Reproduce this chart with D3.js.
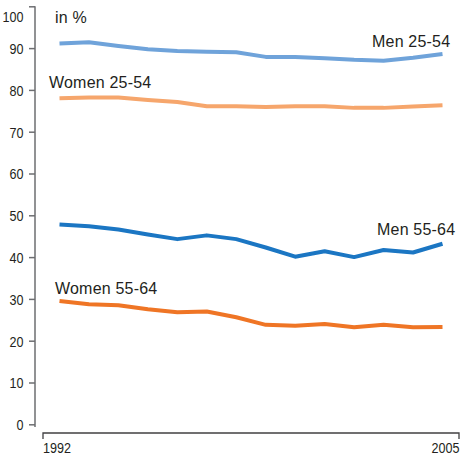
<!DOCTYPE html>
<html><head><meta charset="utf-8">
<script src="https://cdn.jsdelivr.net/npm/d3@7"></script>
<style>
html,body{margin:0;padding:0;background:#fff;}
svg{display:block;}
.lbl{font-family:"Liberation Sans",Arial,sans-serif;font-size:16px;fill:#231f20;letter-spacing:0.2px;}
.num{font-family:"Liberation Sans",Arial,sans-serif;font-size:15px;fill:#231f20;}
</style></head>
<body>
<svg id="c" width="464" height="455"></svg>
<script>
const years = [1992,1993,1994,1995,1996,1997,1998,1999,2000,2001,2002,2003,2004,2005];
const men2554   = [91.1,91.4,90.5,89.7,89.3,89.1,89.0,87.9,87.9,87.6,87.2,87.0,87.7,88.6];
const women2554 = [78.0,78.2,78.2,77.6,77.1,76.1,76.1,75.9,76.1,76.1,75.7,75.7,76.0,76.3];
const men5564   = [47.8,47.4,46.6,45.4,44.3,45.2,44.3,42.3,40.1,41.4,40.0,41.7,41.1,43.2];
const women5564 = [29.5,28.7,28.5,27.5,26.8,27.0,25.6,23.8,23.6,24.0,23.2,23.8,23.2,23.3];
const yTicks = [0,10,20,30,40,50,60,70,80,90,100];
const xTickLabels = ["1992","2005"];
const seriesNames = ["Men 25-54","Women 25-54","Men 55-64","Women 55-64"];

const svg = d3.select("#c");
const y = d3.scaleLinear().domain([0,100]).range([424.3,6.3]);
const x = d3.scalePoint().domain(years).range([43,459]).padding(0.56);

// y axis
const yAxis = d3.axisLeft(y).tickValues(yTicks).tickSize(6).tickPadding(5);
const gy = svg.append("g").attr("transform","translate(35,0)").call(yAxis);
gy.select(".domain").remove();
gy.attr("font-family",null).attr("font-size",null);
gy.selectAll(".tick line").attr("stroke","#6d6e71").attr("stroke-width",1.5);
gy.selectAll(".tick text")
  .attr("class","num")
  .attr("x",-11.5)
  .attr("dy",d=> d===100 ? "1.0em" : "0.36em")
  .attr("textLength",d=>String(d).length*7)
  .attr("lengthAdjust","spacingAndGlyphs");
gy.append("line").attr("x1",0).attr("x2",0).attr("y1",y(100)).attr("y2",427)
  .attr("stroke","#6d6e71").attr("stroke-width",1.5);

// x axis (line with end ticks)
const xr = x.range();
const gx = svg.append("g");
gx.append("path").attr("d",`M${xr[0]},439V433H${xr[1]}V439`)
  .attr("fill","none").attr("stroke","#414042").attr("stroke-width",1.3);
gx.append("text").attr("class","num").attr("x",xr[0]).attr("y",452.5).attr("text-anchor","start")
  .attr("textLength",28).attr("lengthAdjust","spacingAndGlyphs").text(xTickLabels[0]);
gx.append("text").attr("class","num").attr("x",xr[1]+0.5-28).attr("y",452.5).attr("text-anchor","start")
  .attr("textLength",28).attr("lengthAdjust","spacingAndGlyphs").text(xTickLabels[1]);

const series = [
  {name:seriesNames[0], vals:men2554,   color:"#6fa3da", lx:372, ly:47},
  {name:seriesNames[1], vals:women2554, color:"#f6a66c", lx:49,  ly:88},
  {name:seriesNames[2], vals:men5564,   color:"#1b76c3", lx:377, ly:235},
  {name:seriesNames[3], vals:women5564, color:"#ef7525", lx:55,  ly:294}
];
const line = d3.line().x((d,i)=>x(years[i])).y(d=>y(d));
series.forEach(s=>{
  svg.append("path").attr("d",line(s.vals)).attr("fill","none")
    .attr("stroke",s.color).attr("stroke-width",4).attr("stroke-linejoin","round");
  svg.append("text").attr("class","lbl").attr("x",s.lx).attr("y",s.ly).text(s.name);
});
svg.append("text").attr("class","lbl").attr("x",55).attr("y",23).text("in %");
</script>
</body></html>
